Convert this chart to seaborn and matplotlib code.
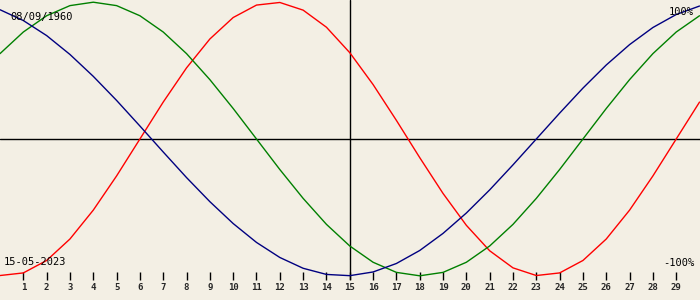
import matplotlib
matplotlib.use("Agg")
import matplotlib.pyplot as plt
import seaborn as sns
import pandas as pd

sns.set_theme(style="white")
plt.rcParams['font.family'] = ['DejaVu Sans Mono', 'DejaVu Sans']

# ---- data ----
days = list(range(31))
physical = [-0.998, -0.979, -0.888, -0.731, -0.520, -0.270, 0.000, 0.270, 0.520, 0.731,
            0.888, 0.979, 0.998, 0.942, 0.817, 0.631, 0.398, 0.136, -0.136, -0.398,
            -0.631, -0.817, -0.942, -0.998, -0.979, -0.888, -0.731, -0.520, -0.270, 0.000,
            0.270]
emotional = [0.624, 0.782, 0.901, 0.975, 1.000, 0.975, 0.901, 0.782, 0.624, 0.434,
             0.223, 0.000, -0.223, -0.434, -0.624, -0.782, -0.901, -0.975, -1.000, -0.975,
             -0.901, -0.782, -0.624, -0.434, -0.223, 0.000, 0.223, 0.434, 0.624, 0.782,
             0.901]
intellectual = [0.945, 0.866, 0.756, 0.618, 0.458, 0.282, 0.095, -0.095, -0.282, -0.458,
                -0.618, -0.756, -0.866, -0.945, -0.990, -0.999, -0.972, -0.910, -0.815, -0.690,
                -0.541, -0.372, -0.189, 0.000, 0.189, 0.372, 0.541, 0.690, 0.815, 0.910,
                0.972]
tick_days = list(range(1, 30))
tick_labels = [str(d) for d in tick_days]
selected_day = 15
birth_label = "08/09/1960"
date_label = "15-05-2023"
top_label = "100%"
bottom_label = "-100%"

# ---- figure ----
bg = "#F3EFE4"
fig = plt.figure(figsize=(7, 3), dpi=100)
fig.patch.set_facecolor(bg)
ax = fig.add_axes([0, 20 / 300, 1, 280 / 300])
ax.set_facecolor(bg)
for s in ax.spines.values():
    s.set_visible(False)

df = pd.DataFrame({
    "day": days * 3,
    "value": physical + emotional + intellectual,
    "cycle": ["physical"] * len(days) + ["emotional"] * len(days) + ["intellectual"] * len(days),
})
palette = {"physical": "#FF0000", "emotional": "#008000", "intellectual": "#000080"}
sns.lineplot(data=df, x="day", y="value", hue="cycle", palette=palette,
             linewidth=1, legend=False, ax=ax)

ax.axhline(0, color="black", lw=1, zorder=1)
ax.axvline(selected_day, color="black", lw=1, zorder=1)

c, a = 139.0, 136.8
ax.set_xlim(0, 30.02)
ax.set_ylim((c - 280) / a, c / a)
ax.set_xticks(tick_days)
ax.set_xticklabels(tick_labels, fontweight="bold", fontsize=6.5, family="DejaVu Sans Mono")
ax.tick_params(axis="x", direction="in", length=6, width=1, color="black",
               pad=2.2, bottom=True)
ax.set_yticks([])
ax.set_xlabel("")
ax.set_ylabel("")

def px(x, y):
    return x / 700, 1 - y / 300

fig.text(*px(10, 17), birth_label, ha="left", va="center", fontsize=7.5, color="black")
fig.text(*px(4, 262), date_label, ha="left", va="center", fontsize=7.5, color="black")
fig.text(*px(694, 12), top_label, ha="right", va="center", fontsize=7.5, color="black")
fig.text(*px(694, 263), bottom_label, ha="right", va="center", fontsize=7.5, color="black")

fig.savefig("out.png", dpi=100, facecolor=bg)
